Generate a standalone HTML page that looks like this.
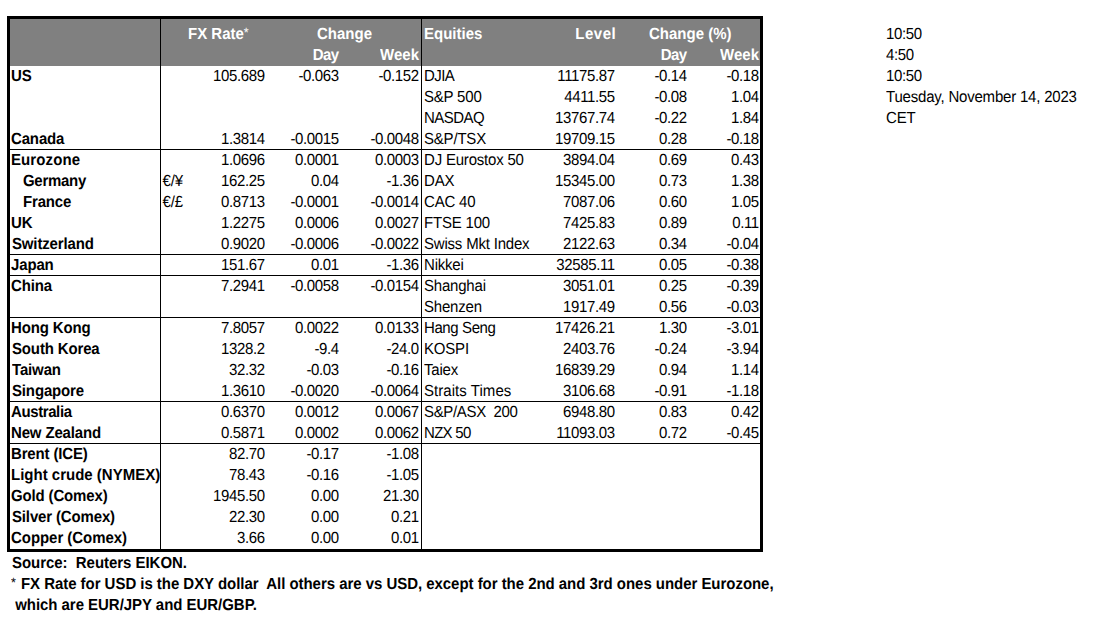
<!DOCTYPE html>
<html><head><meta charset="utf-8"><style>
html,body{margin:0;padding:0;background:#fff;width:1106px;height:620px;overflow:hidden;position:relative}
i{position:absolute;display:block}
p{position:absolute;margin:0;white-space:pre;transform:scaleY(1.07);transform-origin:0 15px;text-rendering:geometricPrecision;font-family:"Liberation Sans",sans-serif;font-size:15px;line-height:21px;height:21px;color:#000;letter-spacing:0px}
p.b{font-weight:bold}
.ast{display:inline-block;line-height:0;width:5.8px;font-weight:normal;font-size:12.5px;vertical-align:2px;letter-spacing:0}
</style></head><body>
<i style="left:10px;top:19px;width:750px;height:47px;background:#808080"></i>
<i style="left:7px;top:16px;width:756px;height:3px;background:#000"></i>
<i style="left:7px;top:549px;width:756px;height:3px;background:#000"></i>
<i style="left:7px;top:16px;width:3px;height:536px;background:#000"></i>
<i style="left:760px;top:16px;width:3px;height:536px;background:#000"></i>
<i style="left:160px;top:19px;width:1px;height:530px;background:#000"></i>
<i style="left:421px;top:19px;width:1px;height:530px;background:#000"></i>
<i style="left:10px;top:149px;width:750px;height:1px;background:#000"></i>
<i style="left:10px;top:254px;width:750px;height:1px;background:#000"></i>
<i style="left:10px;top:275px;width:750px;height:1px;background:#000"></i>
<i style="left:10px;top:317px;width:750px;height:1px;background:#000"></i>
<i style="left:10px;top:401px;width:750px;height:1px;background:#000"></i>
<i style="left:10px;top:443px;width:750px;height:1px;background:#000"></i>
<p class="b" style="top:24px;left:188px;color:#fff;">FX Rate<span class="ast">*</span></p>
<p class="b" style="top:24px;left:317px;color:#fff;">Change</p>
<p class="b" style="top:45px;right:767.30px;color:#fff;letter-spacing:-0.5px;">Day</p>
<p class="b" style="top:45px;right:687px;color:#fff;">Week</p>
<p class="b" style="top:24px;left:424px;color:#fff;">Equities</p>
<p class="b" style="top:24px;right:489.80px;color:#fff;letter-spacing:0.5px;">Level</p>
<p class="b" style="top:24px;left:649px;color:#fff;">Change (%)</p>
<p class="b" style="top:45px;right:419.30px;color:#fff;letter-spacing:-0.5px;">Day</p>
<p class="b" style="top:45px;right:347px;color:#fff;">Week</p>
<p class="b" style="top:66px;left:11px;letter-spacing:-0.15px;">US</p>
<p class="r" style="top:66px;right:841.14px;letter-spacing:-0.34px;">105.689</p>
<p class="r" style="top:66px;right:767.14px;letter-spacing:-0.34px;">-0.063</p>
<p class="r" style="top:66px;right:687.14px;letter-spacing:-0.34px;">-0.152</p>
<p class="r" style="top:66px;left:424px;letter-spacing:-0.6px;">DJIA</p>
<p class="r" style="top:66px;right:491.14px;letter-spacing:-0.34px;">11175.87</p>
<p class="r" style="top:66px;right:419.14px;letter-spacing:-0.34px;">-0.14</p>
<p class="r" style="top:66px;right:347.14px;letter-spacing:-0.34px;">-0.18</p>
<p class="r" style="top:87px;left:424px;letter-spacing:-0.2px;">S&amp;P 500</p>
<p class="r" style="top:87px;right:491.14px;letter-spacing:-0.34px;">4411.55</p>
<p class="r" style="top:87px;right:419.14px;letter-spacing:-0.34px;">-0.08</p>
<p class="r" style="top:87px;right:347.14px;letter-spacing:-0.34px;">1.04</p>
<p class="r" style="top:108px;left:424px;letter-spacing:-0.54px;">NASDAQ</p>
<p class="r" style="top:108px;right:491.14px;letter-spacing:-0.34px;">13767.74</p>
<p class="r" style="top:108px;right:419.14px;letter-spacing:-0.34px;">-0.22</p>
<p class="r" style="top:108px;right:347.14px;letter-spacing:-0.34px;">1.84</p>
<p class="b" style="top:129px;left:11px;letter-spacing:-0.15px;">Canada</p>
<p class="r" style="top:129px;right:841.14px;letter-spacing:-0.34px;">1.3814</p>
<p class="r" style="top:129px;right:767.14px;letter-spacing:-0.34px;">-0.0015</p>
<p class="r" style="top:129px;right:687.14px;letter-spacing:-0.34px;">-0.0048</p>
<p class="r" style="top:129px;left:424px;letter-spacing:-0.2px;">S&amp;P/TSX</p>
<p class="r" style="top:129px;right:491.14px;letter-spacing:-0.34px;">19709.15</p>
<p class="r" style="top:129px;right:419.14px;letter-spacing:-0.34px;">0.28</p>
<p class="r" style="top:129px;right:347.14px;letter-spacing:-0.34px;">-0.18</p>
<p class="b" style="top:150px;left:11px;letter-spacing:0.1px;">Eurozone</p>
<p class="r" style="top:150px;right:841.14px;letter-spacing:-0.34px;">1.0696</p>
<p class="r" style="top:150px;right:767.14px;letter-spacing:-0.34px;">0.0001</p>
<p class="r" style="top:150px;right:687.14px;letter-spacing:-0.34px;">0.0003</p>
<p class="r" style="top:150px;left:424px;letter-spacing:-0.2px;">DJ Eurostox 50</p>
<p class="r" style="top:150px;right:491.14px;letter-spacing:-0.34px;">3894.04</p>
<p class="r" style="top:150px;right:419.14px;letter-spacing:-0.34px;">0.69</p>
<p class="r" style="top:150px;right:347.14px;letter-spacing:-0.34px;">0.43</p>
<p class="b" style="top:171px;left:23px;letter-spacing:-0.3px;">Germany</p>
<p class="r" style="top:171px;left:162.6px;letter-spacing:-0.2px;">€/¥</p>
<p class="r" style="top:171px;right:841.14px;letter-spacing:-0.34px;">162.25</p>
<p class="r" style="top:171px;right:767.14px;letter-spacing:-0.34px;">0.04</p>
<p class="r" style="top:171px;right:687.14px;letter-spacing:-0.34px;">-1.36</p>
<p class="r" style="top:171px;left:424px;letter-spacing:-0.2px;">DAX</p>
<p class="r" style="top:171px;right:491.14px;letter-spacing:-0.34px;">15345.00</p>
<p class="r" style="top:171px;right:419.14px;letter-spacing:-0.34px;">0.73</p>
<p class="r" style="top:171px;right:347.14px;letter-spacing:-0.34px;">1.38</p>
<p class="b" style="top:192px;left:23px;letter-spacing:-0.17px;">France</p>
<p class="r" style="top:192px;left:162.6px;letter-spacing:-0.2px;">€/£</p>
<p class="r" style="top:192px;right:841.14px;letter-spacing:-0.34px;">0.8713</p>
<p class="r" style="top:192px;right:767.14px;letter-spacing:-0.34px;">-0.0001</p>
<p class="r" style="top:192px;right:687.14px;letter-spacing:-0.34px;">-0.0014</p>
<p class="r" style="top:192px;left:424px;letter-spacing:-0.2px;">CAC 40</p>
<p class="r" style="top:192px;right:491.14px;letter-spacing:-0.34px;">7087.06</p>
<p class="r" style="top:192px;right:419.14px;letter-spacing:-0.34px;">0.60</p>
<p class="r" style="top:192px;right:347.14px;letter-spacing:-0.34px;">1.05</p>
<p class="b" style="top:213px;left:11px;letter-spacing:-0.15px;">UK</p>
<p class="r" style="top:213px;right:841.14px;letter-spacing:-0.34px;">1.2275</p>
<p class="r" style="top:213px;right:767.14px;letter-spacing:-0.34px;">0.0006</p>
<p class="r" style="top:213px;right:687.14px;letter-spacing:-0.34px;">0.0027</p>
<p class="r" style="top:213px;left:424px;letter-spacing:-0.2px;">FTSE 100</p>
<p class="r" style="top:213px;right:491.14px;letter-spacing:-0.34px;">7425.83</p>
<p class="r" style="top:213px;right:419.14px;letter-spacing:-0.34px;">0.89</p>
<p class="r" style="top:213px;right:347.14px;letter-spacing:-0.34px;">0.11</p>
<p class="b" style="top:234px;left:12px;letter-spacing:-0.15px;">Switzerland</p>
<p class="r" style="top:234px;right:841.14px;letter-spacing:-0.34px;">0.9020</p>
<p class="r" style="top:234px;right:767.14px;letter-spacing:-0.34px;">-0.0006</p>
<p class="r" style="top:234px;right:687.14px;letter-spacing:-0.34px;">-0.0022</p>
<p class="r" style="top:234px;left:424px;letter-spacing:-0.2px;">Swiss Mkt Index</p>
<p class="r" style="top:234px;right:491.14px;letter-spacing:-0.34px;">2122.63</p>
<p class="r" style="top:234px;right:419.14px;letter-spacing:-0.34px;">0.34</p>
<p class="r" style="top:234px;right:347.14px;letter-spacing:-0.34px;">-0.04</p>
<p class="b" style="top:255px;left:11px;letter-spacing:-0.15px;">Japan</p>
<p class="r" style="top:255px;right:841.14px;letter-spacing:-0.34px;">151.67</p>
<p class="r" style="top:255px;right:767.14px;letter-spacing:-0.34px;">0.01</p>
<p class="r" style="top:255px;right:687.14px;letter-spacing:-0.34px;">-1.36</p>
<p class="r" style="top:255px;left:424px;letter-spacing:-0.2px;">Nikkei</p>
<p class="r" style="top:255px;right:491.14px;letter-spacing:-0.34px;">32585.11</p>
<p class="r" style="top:255px;right:419.14px;letter-spacing:-0.34px;">0.05</p>
<p class="r" style="top:255px;right:347.14px;letter-spacing:-0.34px;">-0.38</p>
<p class="b" style="top:276px;left:11px;letter-spacing:-0.15px;">China</p>
<p class="r" style="top:276px;right:841.14px;letter-spacing:-0.34px;">7.2941</p>
<p class="r" style="top:276px;right:767.14px;letter-spacing:-0.34px;">-0.0058</p>
<p class="r" style="top:276px;right:687.14px;letter-spacing:-0.34px;">-0.0154</p>
<p class="r" style="top:276px;left:424px;letter-spacing:-0.2px;">Shanghai</p>
<p class="r" style="top:276px;right:491.14px;letter-spacing:-0.34px;">3051.01</p>
<p class="r" style="top:276px;right:419.14px;letter-spacing:-0.34px;">0.25</p>
<p class="r" style="top:276px;right:347.14px;letter-spacing:-0.34px;">-0.39</p>
<p class="r" style="top:297px;left:424px;letter-spacing:-0.2px;">Shenzen</p>
<p class="r" style="top:297px;right:491.14px;letter-spacing:-0.34px;">1917.49</p>
<p class="r" style="top:297px;right:419.14px;letter-spacing:-0.34px;">0.56</p>
<p class="r" style="top:297px;right:347.14px;letter-spacing:-0.34px;">-0.03</p>
<p class="b" style="top:318px;left:11px;letter-spacing:-0.15px;">Hong Kong</p>
<p class="r" style="top:318px;right:841.14px;letter-spacing:-0.34px;">7.8057</p>
<p class="r" style="top:318px;right:767.14px;letter-spacing:-0.34px;">0.0022</p>
<p class="r" style="top:318px;right:687.14px;letter-spacing:-0.34px;">0.0133</p>
<p class="r" style="top:318px;left:424px;letter-spacing:-0.4px;">Hang Seng</p>
<p class="r" style="top:318px;right:491.14px;letter-spacing:-0.34px;">17426.21</p>
<p class="r" style="top:318px;right:419.14px;letter-spacing:-0.34px;">1.30</p>
<p class="r" style="top:318px;right:347.14px;letter-spacing:-0.34px;">-3.01</p>
<p class="b" style="top:339px;left:12px;letter-spacing:-0.15px;">South Korea</p>
<p class="r" style="top:339px;right:841.14px;letter-spacing:-0.34px;">1328.2</p>
<p class="r" style="top:339px;right:767.14px;letter-spacing:-0.34px;">-9.4</p>
<p class="r" style="top:339px;right:687.14px;letter-spacing:-0.34px;">-24.0</p>
<p class="r" style="top:339px;left:424px;letter-spacing:-0.2px;">KOSPI</p>
<p class="r" style="top:339px;right:491.14px;letter-spacing:-0.34px;">2403.76</p>
<p class="r" style="top:339px;right:419.14px;letter-spacing:-0.34px;">-0.24</p>
<p class="r" style="top:339px;right:347.14px;letter-spacing:-0.34px;">-3.94</p>
<p class="b" style="top:360px;left:12px;letter-spacing:-0.15px;">Taiwan</p>
<p class="r" style="top:360px;right:841.14px;letter-spacing:-0.34px;">32.32</p>
<p class="r" style="top:360px;right:767.14px;letter-spacing:-0.34px;">-0.03</p>
<p class="r" style="top:360px;right:687.14px;letter-spacing:-0.34px;">-0.16</p>
<p class="r" style="top:360px;left:424px;letter-spacing:-0.2px;">Taiex</p>
<p class="r" style="top:360px;right:491.14px;letter-spacing:-0.34px;">16839.29</p>
<p class="r" style="top:360px;right:419.14px;letter-spacing:-0.34px;">0.94</p>
<p class="r" style="top:360px;right:347.14px;letter-spacing:-0.34px;">1.14</p>
<p class="b" style="top:381px;left:12px;letter-spacing:-0.15px;">Singapore</p>
<p class="r" style="top:381px;right:841.14px;letter-spacing:-0.34px;">1.3610</p>
<p class="r" style="top:381px;right:767.14px;letter-spacing:-0.34px;">-0.0020</p>
<p class="r" style="top:381px;right:687.14px;letter-spacing:-0.34px;">-0.0064</p>
<p class="r" style="top:381px;left:424px;letter-spacing:0.05px;">Straits Times</p>
<p class="r" style="top:381px;right:491.14px;letter-spacing:-0.34px;">3106.68</p>
<p class="r" style="top:381px;right:419.14px;letter-spacing:-0.34px;">-0.91</p>
<p class="r" style="top:381px;right:347.14px;letter-spacing:-0.34px;">-1.18</p>
<p class="b" style="top:402px;left:11px;letter-spacing:-0.4px;">Australia</p>
<p class="r" style="top:402px;right:841.14px;letter-spacing:-0.34px;">0.6370</p>
<p class="r" style="top:402px;right:767.14px;letter-spacing:-0.34px;">0.0012</p>
<p class="r" style="top:402px;right:687.14px;letter-spacing:-0.34px;">0.0067</p>
<p class="r" style="top:402px;left:424px;letter-spacing:-0.34px;">S&amp;P/ASX  200</p>
<p class="r" style="top:402px;right:491.14px;letter-spacing:-0.34px;">6948.80</p>
<p class="r" style="top:402px;right:419.14px;letter-spacing:-0.34px;">0.83</p>
<p class="r" style="top:402px;right:347.14px;letter-spacing:-0.34px;">0.42</p>
<p class="b" style="top:423px;left:11px;letter-spacing:-0.15px;">New Zealand</p>
<p class="r" style="top:423px;right:841.14px;letter-spacing:-0.34px;">0.5871</p>
<p class="r" style="top:423px;right:767.14px;letter-spacing:-0.34px;">0.0002</p>
<p class="r" style="top:423px;right:687.14px;letter-spacing:-0.34px;">0.0062</p>
<p class="r" style="top:423px;left:424px;letter-spacing:-0.7px;">NZX 50</p>
<p class="r" style="top:423px;right:491.14px;letter-spacing:-0.34px;">11093.03</p>
<p class="r" style="top:423px;right:419.14px;letter-spacing:-0.34px;">0.72</p>
<p class="r" style="top:423px;right:347.14px;letter-spacing:-0.34px;">-0.45</p>
<p class="b" style="top:444px;left:11px;letter-spacing:-0.15px;">Brent (ICE)</p>
<p class="r" style="top:444px;right:841.14px;letter-spacing:-0.34px;">82.70</p>
<p class="r" style="top:444px;right:767.14px;letter-spacing:-0.34px;">-0.17</p>
<p class="r" style="top:444px;right:687.14px;letter-spacing:-0.34px;">-1.08</p>
<p class="b" style="top:465px;left:11px;">Light crude (NYMEX)</p>
<p class="r" style="top:465px;right:841.14px;letter-spacing:-0.34px;">78.43</p>
<p class="r" style="top:465px;right:767.14px;letter-spacing:-0.34px;">-0.16</p>
<p class="r" style="top:465px;right:687.14px;letter-spacing:-0.34px;">-1.05</p>
<p class="b" style="top:486px;left:11px;letter-spacing:-0.15px;">Gold (Comex)</p>
<p class="r" style="top:486px;right:841.14px;letter-spacing:-0.34px;">1945.50</p>
<p class="r" style="top:486px;right:767.14px;letter-spacing:-0.34px;">0.00</p>
<p class="r" style="top:486px;right:687.14px;letter-spacing:-0.34px;">21.30</p>
<p class="b" style="top:507px;left:12px;letter-spacing:-0.15px;">Silver (Comex)</p>
<p class="r" style="top:507px;right:841.14px;letter-spacing:-0.34px;">22.30</p>
<p class="r" style="top:507px;right:767.14px;letter-spacing:-0.34px;">0.00</p>
<p class="r" style="top:507px;right:687.14px;letter-spacing:-0.34px;">0.21</p>
<p class="b" style="top:528px;left:11px;letter-spacing:-0.05px;">Copper (Comex)</p>
<p class="r" style="top:528px;right:841.14px;letter-spacing:-0.34px;">3.66</p>
<p class="r" style="top:528px;right:767.14px;letter-spacing:-0.34px;">0.00</p>
<p class="r" style="top:528px;right:687.14px;letter-spacing:-0.34px;">0.01</p>
<p class="b" style="top:553px;left:12px;letter-spacing:-0.04px;">Source:  Reuters EIKON.</p>
<p class="b" style="top:574px;left:11px;letter-spacing:-0.04px;"><span class="ast">*</span> FX Rate for USD is the DXY dollar  All others are vs USD, except for the 2nd and 3rd ones under Eurozone,</p>
<p class="b" style="top:595px;left:11px;letter-spacing:-0.04px;"> which are EUR/JPY and EUR/GBP.</p>
<p class="r" style="top:24px;left:886px;letter-spacing:-0.34px;">10:50</p>
<p class="r" style="top:45px;left:886px;letter-spacing:-0.34px;">4:50</p>
<p class="r" style="top:66px;left:886px;letter-spacing:-0.34px;">10:50</p>
<p class="r" style="top:87px;left:886px;letter-spacing:-0.2px;">Tuesday, November 14, 2023</p>
<p class="r" style="top:108px;left:886px;letter-spacing:-0.2px;">CET</p>
</body></html>
